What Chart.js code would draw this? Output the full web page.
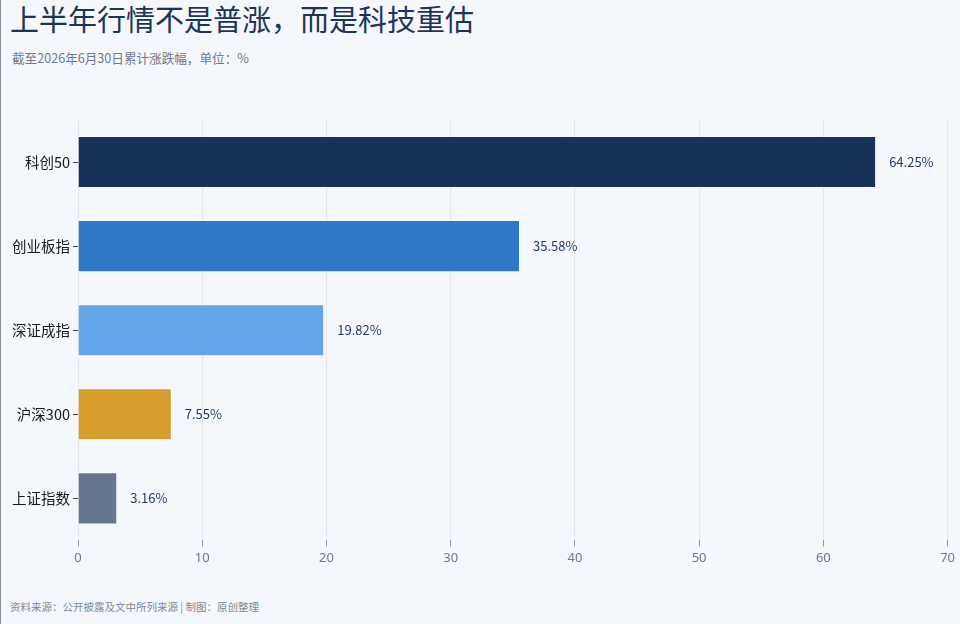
<!DOCTYPE html>
<html>
<head>
<meta charset="utf-8">
<script src="https://cdn.jsdelivr.net/npm/chart.js@4"></script>
<style>
  html, body { margin: 0; padding: 0; }
  body {
    width: 960px; height: 624px; overflow: hidden;
    background: #f4f7fb;
    border-left: 1px solid #8a8f96;
    box-sizing: border-box;
    position: relative;
    font-family: "Noto Sans CJK SC", "Noto Sans", sans-serif;
  }
  #title { position: absolute; left: 9px; top: -2px; font-size: 29px; color: #1c3557; line-height: 40px; }
  #subtitle { position: absolute; left: 11px; top: 49px; font-size: 12.6px; color: #6c7a8e; line-height: 18px; }
  #footer { position: absolute; left: 9px; top: 599px; font-size: 10.5px; color: #7d899a; line-height: 16px; white-space: pre; }
  #wrap { position: absolute; left: 0; top: 104px; width: 958px; height: 466px; }
</style>
</head>
<body>
<div id="title">上半年行情不是普涨，而是科技重估</div>
<div id="subtitle">截至2026年6月30日累计涨跌幅，单位：%</div>
<div id="wrap"><canvas id="chart"></canvas></div>
<div id="footer">资料来源：公开披露及文中所列来源 | 制图：原创整理</div>
<script>
const categories = ['科创50', '创业板指', '深证成指', '沪深300', '上证指数'];
const returns = [64.25, 35.58, 19.82, 7.55, 3.16];
const barColors = ['#17335a', '#2f78c8', '#63a6e8', '#d69c2e', '#66768e'];
const xTicks = [0, 10, 20, 30, 40, 50, 60, 70];

// draw the value text right of each bar
const valueLabels = {
  id: 'valueLabels',
  afterDatasetsDraw(chart) {
    const ctx = chart.ctx;
    const meta = chart.getDatasetMeta(0);
    ctx.save();
    ctx.font = '13px "Noto Sans CJK SC", "Noto Sans", sans-serif';
    ctx.fillStyle = '#1f3a5f';
    ctx.textBaseline = 'middle';
    ctx.textAlign = 'left';
    meta.data.forEach((bar, i) => {
      ctx.fillText(returns[i].toFixed(2) + '%', bar.x + 13, bar.y);
    });
    ctx.restore();
  }
};

new Chart(document.getElementById('chart'), {
  type: 'bar',
  data: {
    labels: categories,
    datasets: [{
      data: returns,
      backgroundColor: barColors,
      borderColor: 'rgba(255,255,255,0.45)',
      borderWidth: 1,
      categoryPercentage: 0.62,
      barPercentage: 1
    }]
  },
  options: {
    indexAxis: 'y',
    responsive: true,
    maintainAspectRatio: false,
    animation: false,
    layout: { padding: { top: 16, right: 6, bottom: 0, left: 0 } },
    plugins: {
      legend: { display: false },
      tooltip: { enabled: false }
    },
    scales: {
      x: {
        min: 0,
        max: 70,
        afterBuildTicks(scale) {
          scale.ticks = xTicks.map(v => ({ value: v }));
        },
        grid: { color: '#e2e7ee', tickColor: '#8a97a8', tickLength: 6 },
        border: { display: false },
        ticks: {
          color: '#6c7a8e',
          padding: 4,
          font: { size: 13, family: '"Noto Sans", "Noto Sans CJK SC", sans-serif' }
        }
      },
      y: {
        afterFit(scale) { scale.width = 77; },
        grid: { drawOnChartArea: false, offset: false, tickColor: '#444', tickLength: 5 },
        border: { display: false },
        ticks: {
          color: '#1a1a1a',
          padding: 3,
          font: { size: 14.5, family: '"Noto Sans CJK SC", "Noto Sans", sans-serif' }
        }
      }
    }
  },
  plugins: [valueLabels]
});
</script>
</body>
</html>
